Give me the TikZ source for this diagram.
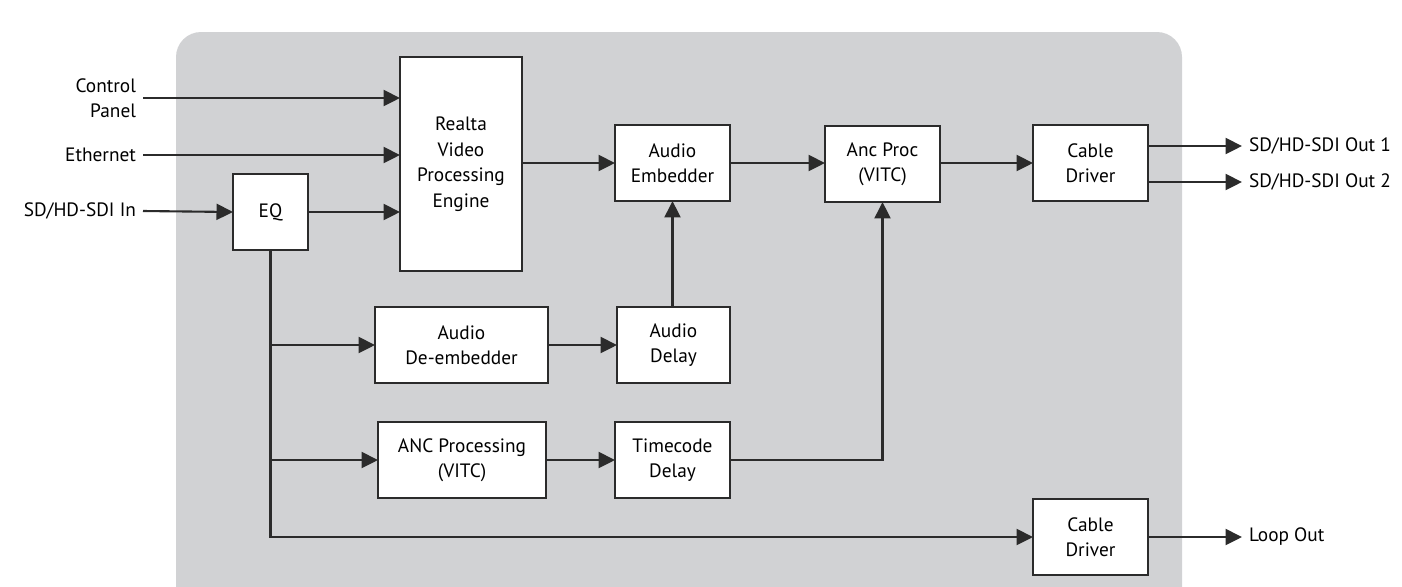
\documentclass[tikz,border=0pt]{standalone}
\usepackage{fontspec}
\setmainfont{PT Sans}
\usetikzlibrary{arrows.meta}

\definecolor{panelgray}{HTML}{D1D2D4}
\definecolor{linegray}{HTML}{2B2B2B}

\begin{document}
\begin{tikzpicture}[x=0.02cm, y=-0.02cm, outer sep = 0pt]

\tikzstyle{block}=[draw=linegray, fill=white, line width=1.2pt, rectangle, align=center, font=\fontsize{11}{14.5}\selectfont, minimum height=1.52cm, minimum width=2.3cm]
\tikzstyle{label}=[font=\fontsize{11}{14.5}\selectfont, align=right, inner sep=4pt]
\tikzstyle{sig}=[draw=linegray, line width=1.2pt, -{Triangle[length=0.33cm, width=0.32cm]}]

\clip (0,0) rectangle (1402,586);
\fill[panelgray, rounded corners=0.5cm] (176,32) rectangle (1182,640);

\node[block, minimum width=2.44cm, minimum height=4.28cm] (realta) at (461,164) {Realta\\Video\\Processing\\Engine};
\node[block, minimum width=1.5cm] (eq) at (270.5,212) {EQ};
\node[block] (emb) at (672.5,163) {Audio\\Embedder}; \node[block] (anc) at (882.5,164) {Anc Proc\\(VITC)};
\node[block] (cd1) at (1090.5,163) {Cable\\Driver};
\node[block, minimum width=3.46cm] (deemb) at (461.5,345) {Audio\\De-embedder}; \node[block, minimum width=2.26cm] (adelay) at (673.5,345) {Audio\\Delay};
\node[block, minimum width=3.36cm] (ancp) at (462,460) {ANC Processing\\(VITC)}; \node[block] (tcdelay) at (672.5,460) {Timecode\\Delay};
\node[block] (cd2) at (1090.5,537) {Cable\\Driver};

\node[label, anchor=east] (ctrl) at (143,98) {Control\\Panel}; \node[label, anchor=east] (eth) at (143,155) {Ethernet};
\node[label, anchor=east] (sdiin) at (143,211) {SD/HD-SDI In};
\node[label, anchor=west] (out1) at (1242,146) {SD/HD-SDI Out 1}; \node[label, anchor=west] (out2) at (1242,182) {SD/HD-SDI Out 2};
\node[label, anchor=west] (loop) at (1242,537) {Loop Out};

\draw[sig] (ctrl.east) -- (ctrl.east -| realta.west);
\draw[sig] (eth.east) -- (eth.east -| realta.west);
\draw[sig] (sdiin.east) -- (eq.west);
\draw[sig] (eq.east) -- (eq.east -| realta.west);
\draw[sig] (realta.east |- emb.west) -- (emb.west);
\draw[sig] (emb.east) -- (anc.west |- emb.east);
\draw[sig] (anc.east |- cd1.west) -- (cd1.west);
\draw[sig] (out1.west -| cd1.east) -- (out1.west);
\draw[sig] (out2.west -| cd1.east) -- (out2.west);
\draw[sig] (adelay.north -| emb.south) -- (emb.south);
\draw[sig] (tcdelay.east) -| (anc.south);
\draw[sig] (deemb.east) -- (adelay.west);
\draw[sig] (ancp.east) -- (tcdelay.west);
\draw[sig] (eq.south) |- (cd2.west);
\draw[sig] (eq.south |- deemb.west) -- (deemb.west);
\draw[sig] (eq.south |- ancp.west) -- (ancp.west);
\draw[sig] (cd2.east) -- (loop.west);

\end{tikzpicture}
\end{document}
